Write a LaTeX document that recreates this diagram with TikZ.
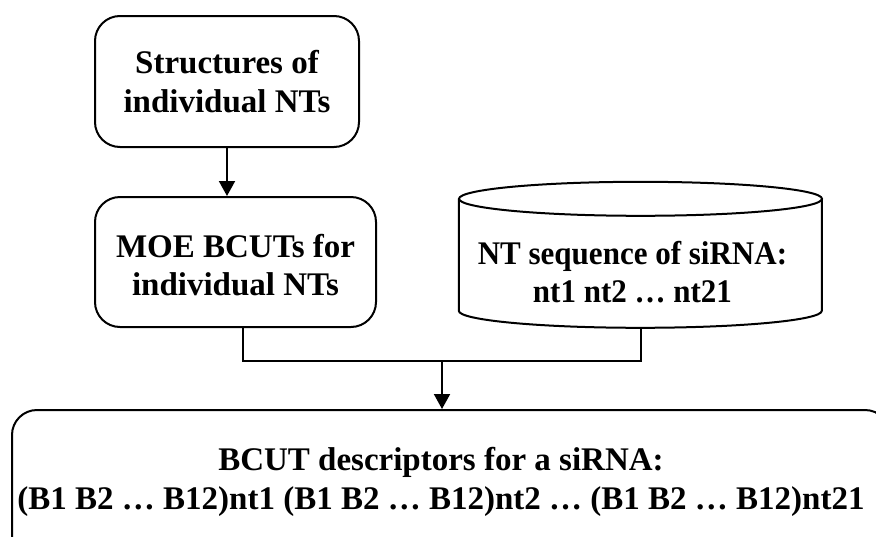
\documentclass[tikz,border=0pt]{standalone}
\usepackage{fontspec}
\setmainfont{Liberation Serif}
\newfontfamily\narrowserif[FakeStretch=0.94]{Liberation Serif}
\usetikzlibrary{arrows.meta,calc}

\tikzset{
  flowbox/.style={draw, line width=2pt, rounded corners=25pt, inner sep=0pt,
    align=center, font=\fontsize{33}{38.5}\selectfont\bfseries},
  flowtext/.style={align=center, inner sep=0pt,
    font=\fontsize{33}{38.5}\selectfont\bfseries},
  link/.style={line width=2pt},
  flowarrow/.style={line width=2pt, -{Triangle[length=15pt,width=16pt]}},
}

\begin{document}
\begin{tikzpicture}[x=1pt, y=-1pt]
  \clip (0,0) rectangle (876,536);
  \fill[white] (0,0) rectangle (876,536);

  % source structures
  \node[flowbox, minimum width=264pt, minimum height=131pt] (struct) at (227,81.5)
    {Structures of\\individual NTs};

  % descriptors per nucleotide
  \node[draw, line width=2pt, rounded corners=25pt, minimum width=281pt,
        minimum height=130pt, inner sep=0pt] (moe) at (235.5,262) {};
  \node[flowtext] (moetext) at (235.5,265)
    {MOE BCUTs for\\individual NTs};

  % sequence store: cylinder body spans the node, ellipses drawn around it
  \node[minimum width=363pt, minimum height=112pt, inner sep=0pt] (seq) at (640.5,272) {};
  \node[flowtext, font=\fontsize{33}{38.5}\selectfont\narrowserif\bfseries] (seqtext) at (632.5,272)
    {NT sequence of siRNA:\\nt1 nt2 \dots\ nt21};
  \draw[line width=2pt]
    (seq.north west) ++(0,-17) -- ++(0,112)
    arc[start angle=180, end angle=360, x radius=181.5pt, y radius=17pt]
    -- ++(0,-112);
  \draw[line width=2pt] ($(seq.north)+(0,-17)$) ellipse[x radius=181.5pt, y radius=17pt];

  % combined descriptor box
  \node[draw, line width=2pt, rounded corners=25pt, minimum width=878pt,
        minimum height=150pt, inner sep=0pt] (res) at (451,485) {};
  \node[flowtext] (restext) at (441,482)
    {BCUT descriptors for a siRNA:\\(B1 B2 \dots\ B12)nt1 (B1 B2 \dots\ B12)nt2 \dots\ (B1 B2 \dots\ B12)nt21};

  % connectors
  \coordinate (join) at (442,361);
  \draw[flowarrow] (struct.south) -- (struct.south |- moe.north);
  \draw[link] ([xshift=7.5pt]moe.south) |- (join) -| (seq.south);
  \draw[flowarrow] (join) -- (join |- res.north);
\end{tikzpicture}
\end{document}
